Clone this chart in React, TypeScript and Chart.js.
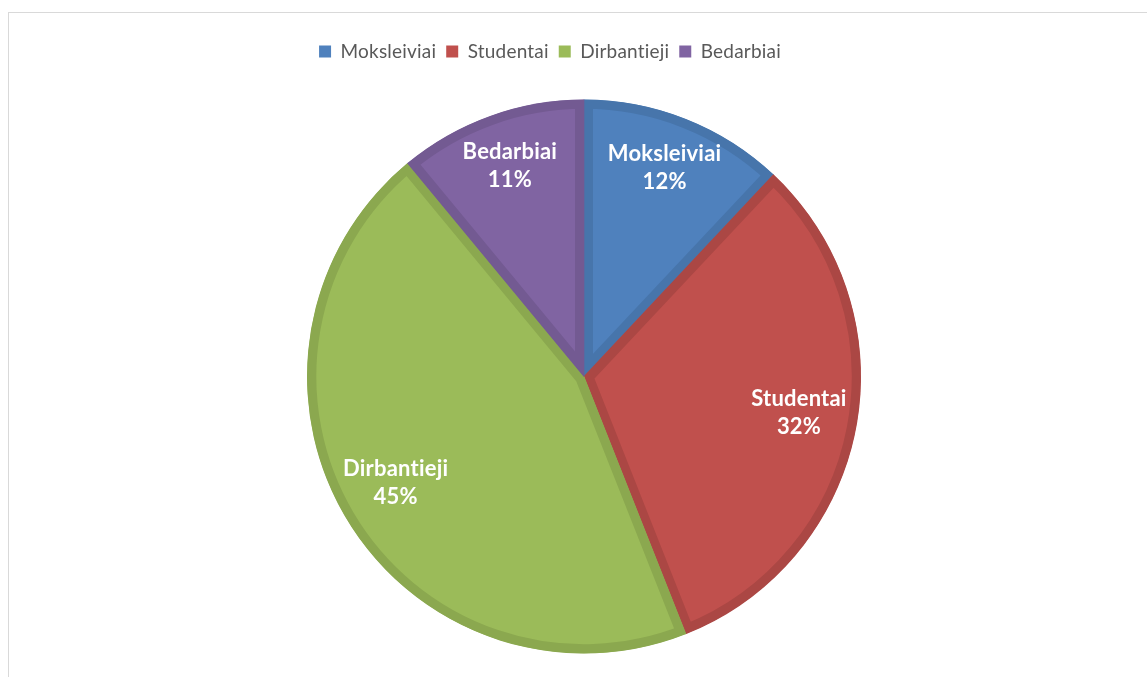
import React, { useEffect, useRef } from "react";
import { Chart, registerables } from "chart.js";

Chart.register(...registerables);

const categories: string[] = ["Moksleiviai", "Studentai", "Dirbantieji", "Bedarbiai"];
const shares: number[] = [12, 32, 45, 11];
const fillColors: string[] = ["#4F81BD", "#C0504D", "#9BBB59", "#8064A2"];
const edgeColors: string[] = ["#4775AB", "#AB4744", "#8BA84F", "#735A92"];

const FONT = "Lato, 'Open Sans', sans-serif";

const noLigatures = {
  id: "noLigatures",
  beforeUpdate(chart: any) {
    (chart.ctx as any).letterSpacing = "0.2px";
  },
  beforeDraw(chart: any) {
    (chart.ctx as any).letterSpacing = "0.2px";
  },
};

const sliceLabels = {
  id: "sliceLabels",
  afterDatasetsDraw(chart: any) {
    const ctx = chart.ctx;
    const meta = chart.getDatasetMeta(0);
    const data = chart.data.datasets[0].data as number[];
    const total = data.reduce((a, b) => a + b, 0);
    ctx.save();
    (ctx as any).letterSpacing = "0.2px";
    ctx.fillStyle = "#FFFFFF";
    ctx.font = `bold 22px ${FONT}`;
    ctx.textAlign = "center";
    ctx.textBaseline = "middle";
    meta.data.forEach((arc: any, i: number) => {
      const p = arc.getProps(["startAngle", "endAngle", "outerRadius", "x", "y"], true);
      const mid = (p.startAngle + p.endAngle) / 2;
      const r = p.outerRadius * 0.79;
      const cx = p.x + Math.cos(mid) * r;
      const cy = p.y + Math.sin(mid) * r - 5;
      const pct = Math.round((data[i] / total) * 100) + "%";
      ctx.fillText(String(chart.data.labels[i]), cx, cy - 14);
      ctx.fillText(pct, cx, cy + 14);
    });
    ctx.restore();
  },
};

const legendShift = {
  id: "legendShift",
  afterLayout(chart: any) {
    if (chart.legend) {
      chart.legend.left -= 34;
      chart.legend.right -= 34;
    }
  },
};

export default function App() {
  const ref = useRef<HTMLCanvasElement | null>(null);
  useEffect(() => {
    if (!ref.current) return;
    const chart = new Chart(ref.current, {
      type: "pie",
      data: {
        labels: categories,
        datasets: [
          {
            data: shares,
            backgroundColor: fillColors,
            borderColor: edgeColors,
            borderWidth: 9,
            borderAlign: "inner",
          } as any,
        ],
      },
      options: {
        responsive: false,
        animation: false,
        radius: 277,
        layout: { padding: { top: 19, left: 12, right: 0, bottom: 31 } },
        plugins: {
          tooltip: { enabled: false },
          legend: {
            position: "top",
            labels: {
              boxWidth: 12,
              boxHeight: 12,
              padding: 10,
              color: "#595959",
              font: { family: FONT, size: 19 },
              generateLabels: (c: any) =>
                (c.data.labels as string[]).map((t, i) => ({
                  text: t,
                  fillStyle: fillColors[i],
                  strokeStyle: fillColors[i],
                  lineWidth: 0,
                  hidden: false,
                  index: i,
                  fontColor: "#595959",
                })),
            },
          },
        },
      } as any,
      plugins: [noLigatures, sliceLabels, legendShift],
    });
    return () => chart.destroy();
  }, []);
  return (
    <div
      style={{
        position: "fixed",
        left: 8,
        top: 12,
        width: 1139,
        height: 665,
        overflow: "hidden",
        boxSizing: "border-box",
        borderTop: "1px solid #D9D9D9",
        borderLeft: "1px solid #D9D9D9",
        background: "#FFFFFF",
      }}
    >
      <canvas ref={ref} width={1138} height={700} style={{ display: "block" }} />
    </div>
  );
}
